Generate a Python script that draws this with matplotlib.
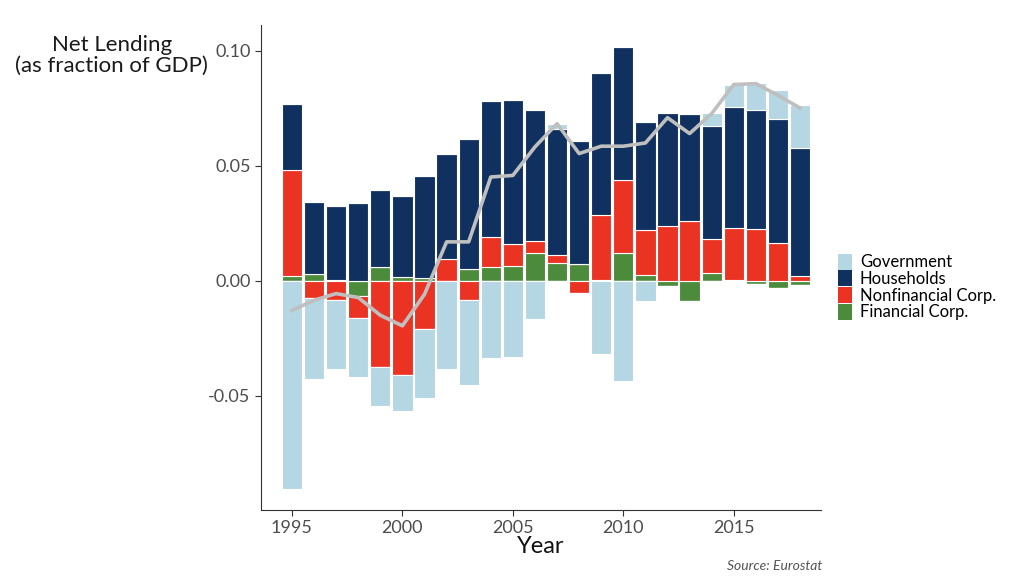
import numpy as np
import matplotlib.pyplot as plt
from matplotlib.patches import Patch

plt.rcParams['font.family'] = ['Lato', 'DejaVu Sans']

years = list(range(1995, 2019))
government = [-0.0903, -0.0351, -0.0297, -0.0257, -0.0170, -0.0157, -0.0301, -0.0384,
              -0.0370, -0.0333, -0.0330, -0.0164, 0.0022, 0.0, -0.0316, -0.0435,
              -0.0088, 0.0, 0.0, 0.0058, 0.0097, 0.0117, 0.0126, 0.0184]
households = [0.0287, 0.0314, 0.0322, 0.0339, 0.0333, 0.0353, 0.0444, 0.0457,
              0.0565, 0.0590, 0.0629, 0.0570, 0.0548, 0.0537, 0.0618, 0.0576,
              0.0468, 0.0494, 0.0469, 0.0488, 0.0527, 0.0519, 0.0539, 0.0560]
nonfinancial = [0.0464, -0.0074, -0.0084, -0.0097, -0.0374, -0.0410, -0.0210, 0.0097,
                -0.0084, 0.0130, 0.0094, 0.0049, 0.0036, -0.0051, 0.0283, 0.0318,
                0.0198, 0.0238, 0.0259, 0.0148, 0.0227, 0.0226, 0.0167, 0.0020]
financial = [0.0020, 0.0029, 0.0005, -0.0064, 0.0061, 0.0017, 0.0014, 0.0,
             0.0054, 0.0061, 0.0065, 0.0123, 0.0078, 0.0072, 0.0003, 0.0123,
             0.0025, -0.0023, -0.0087, 0.0036, 0.0003, -0.0012, -0.0030, -0.0019]
total = [-0.0128, -0.0084, -0.0055, -0.0072, -0.0149, -0.0195, -0.0058, 0.0170,
         0.0170, 0.0452, 0.0459, 0.0583, 0.0684, 0.0554, 0.0586, 0.0586,
         0.0600, 0.0710, 0.0641, 0.0728, 0.0854, 0.0858, 0.0807, 0.0752]

labels = ['Government', 'Households', 'Nonfinancial Corp.', 'Financial Corp.']
colors = ['#b5d6e3', '#10305f', '#ea3323', '#4b8b3b']

fig = plt.figure(figsize=(10.24, 5.83), dpi=100)
ax = fig.add_axes([0.2549, 0.1252, 0.5469, 0.8319])

# stack positives and negatives separately, financial closest to zero
series = [financial, nonfinancial, households, government]
cols = [colors[3], colors[2], colors[1], colors[0]]
pos_base = np.zeros(len(years))
neg_base = np.zeros(len(years))
for vals, c in zip(series, cols):
    v = np.array(vals)
    p = np.where(v > 0, v, 0)
    n = np.where(v < 0, v, 0)
    ax.bar(years, p, bottom=pos_base, width=0.92, color=c, edgecolor='white', linewidth=0.8)
    ax.bar(years, n, bottom=neg_base, width=0.92, color=c, edgecolor='white', linewidth=0.8)
    pos_base += p
    neg_base += n

ax.plot(years, total, color='#bfbfbf', linewidth=2.6, zorder=5)

ax.set_xlim(1993.6, 2018.95)
ax.set_ylim(-0.0996, 0.1113)
ax.set_xticks([1995, 2000, 2005, 2010, 2015])
ax.set_yticks([-0.05, 0.0, 0.05, 0.10])
ax.set_yticklabels(['-0.05', '0.00', '0.05', '0.10'])
ax.tick_params(labelsize=13, labelcolor='#4d4d4d', color='#333333', length=4)
for s in ['top', 'right']:
    ax.spines[s].set_visible(False)
for s in ['left', 'bottom']:
    ax.spines[s].set_color('#333333')

ax.set_xlabel('Year', fontsize=17, labelpad=0, color='#111111')
fig.text(0.109, 0.905, 'Net Lending\n(as fraction of GDP)', ha='center', va='center',
         fontsize=16, color='#1a1a1a', linespacing=1.0)
fig.text(0.803, 0.03, 'Source: Eurostat', ha='right', va='center', fontsize=10,
         style='italic', color='#555555')

handles = [Patch(facecolor=c, edgecolor='none') for c in colors]
fig.legend(handles, labels, loc='center left', bbox_to_anchor=(0.804, 0.508),
           frameon=False, fontsize=12, handlelength=0.8, handleheight=1.1,
           labelspacing=0.0, handletextpad=0.5)

fig.savefig('out.png', dpi=100)
